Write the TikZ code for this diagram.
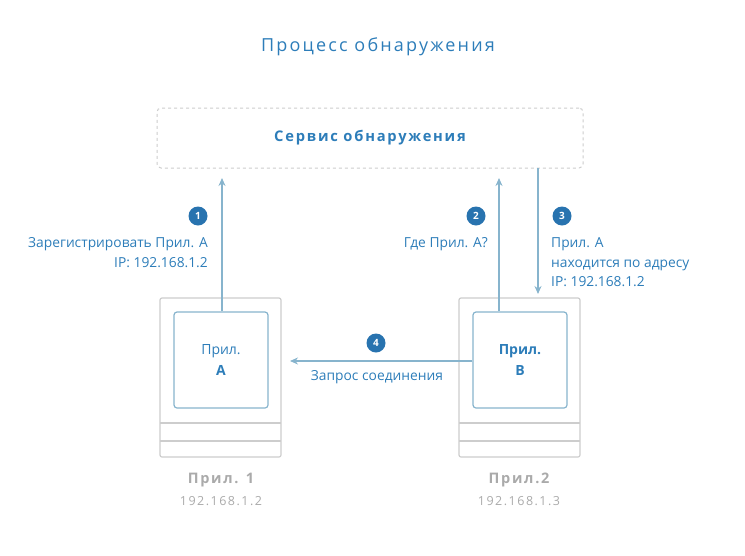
\documentclass[tikz,border=0pt]{standalone}
\usepackage{fontspec}
\setmainfont{Open Sans}
\newfontfamily\spacedfont[LetterSpace=12]{Open Sans}
\definecolor{flowblue}{RGB}{45, 125, 185}
\definecolor{badgeblue}{RGB}{40, 115, 175}
\definecolor{linkblue}{RGB}{135, 180, 205}
\definecolor{hostgray}{RGB}{205, 205, 205}
\definecolor{labelgray}{RGB}{170, 170, 170}
\usetikzlibrary{arrows.meta, positioning}

\begin{document}
\begin{tikzpicture}[x=1pt, y=-1pt,
  hostbox/.style={draw=hostgray, line width=1.2pt, rounded corners=2pt},
  appbox/.style={draw=linkblue, line width=1.2pt, rounded corners=3pt, minimum width=94pt, minimum height=96pt},
  badge/.style={circle, fill=badgeblue, text=white, inner sep=0pt, minimum size=19pt, font=\fontsize{10}{11}\selectfont\bfseries},
  msg/.style={text=flowblue, font=\fontsize{13.8}{19.5}\selectfont, inner sep=0pt},
  flow/.style={draw=linkblue, line width=1.2pt, -{Stealth[length=8pt, width=7pt]}}
]
  \useasboundingbox (0,0) rectangle (745,555);

  \node[text=flowblue, font=\spacedfont\fontsize{18}{20}\selectfont] (title) at (378,47) {Процесс обнаружения};

  % discovery service
  \node[draw=hostgray, dashed, line width=1pt, rounded corners=4pt, minimum width=426pt, minimum height=60pt,
    text=flowblue, font=\spacedfont\fontsize{14.7}{16}\selectfont\bfseries] (svc) at (370,138) {Сервис обнаружения};

  % hosts
  \draw[hostbox] (160,298) rectangle (281,457);
  \draw[hostgray, line width=1.2pt] (160,423) -- (281,423) (160,441) -- (281,441);
  \draw[hostbox] (459,298) rectangle (580,457);
  \draw[hostgray, line width=1.2pt] (459,423) -- (580,423) (459,441) -- (580,441);

  \node[appbox, align=center, text=flowblue, font=\fontsize{14}{21}\selectfont] (appA) at (221,360) {Прил.\\ \textbf{А}};
  \node[appbox, align=center, text=flowblue, font=\fontsize{14}{21}\selectfont\bfseries] (appB) at (520,360) {Прил.\\ В};

  \node[text=labelgray, font=\spacedfont\fontsize{14.5}{16}\selectfont\bfseries] (host1) at (221,480) {Прил. 1};
  \node[text=labelgray, font=\spacedfont\fontsize{12.5}{14}\selectfont] (ip1) at (221,501) {192.168.1.2};
  \node[text=labelgray, font=\spacedfont\fontsize{14.5}{16}\selectfont\bfseries] (host2) at (519,480) {Прил.2};
  \node[text=labelgray, font=\spacedfont\fontsize{12.5}{14}\selectfont] (ip2) at (519,501) {192.168.1.3};

  % messages
  \coordinate (reg) at (222,178);
  \coordinate (ask) at (499,178);
  \coordinate (svcout) at (538,168);
  \coordinate (reply) at (538,294);
  \coordinate (conn) at (290,361);
  \draw[flow] (appA.north -| reg) -- (reg);
  \draw[flow] (appB.north -| ask) -- (ask);
  \draw[flow] (svcout) -- (reply);
  \draw[flow] (appB.west |- conn) -- (conn);

  \node[badge] (b1) at (198,216) {1};
  \node[badge] (b2) at (476,216) {2};
  \node[badge] (b3) at (562,216) {3};
  \node[badge] (b4) at (376,343) {4};

  \node[msg, align=right, anchor=north east] (m1) at (208,237.5) {Зарегистрировать Прил. А\\IP: 192.168.1.2};
  \node[msg, anchor=north east] (m2) at (488,237.5) {Где Прил. А?};
  \node[msg, align=left, anchor=north west] (m3) at (551,237.5) {Прил. А\\находится по адресу\\IP: 192.168.1.2};
  \node[msg] (m4) at (377,377) {Запрос соединения};
\end{tikzpicture}
\end{document}
